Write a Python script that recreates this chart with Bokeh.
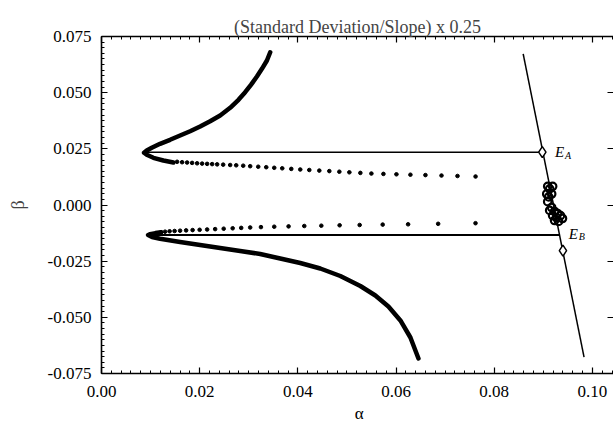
from bokeh.plotting import figure
from bokeh.models import LinearAxis, FixedTicker, NumeralTickFormatter, Range1d, CustomJSTickFormatter, Label
from bokeh.core.properties import value
from bokeh.embed import file_html
from bokeh.resources import INLINE

# ---------------- data ----------------
# upper curve, thick (dense) part: from top end through the nose
upper_thick_a = [0.03437, 0.03370, 0.03268, 0.03166, 0.03044, 0.02927, 0.02791, 0.02621, 0.02417,
                 0.02213, 0.02009, 0.01805, 0.01601, 0.01397, 0.01193, 0.01024, 0.00922, 0.00867,
                 0.00922, 0.01057, 0.01261, 0.01465]
upper_thick_b = [0.06800, 0.06431, 0.06061, 0.05719, 0.05349, 0.05020, 0.04682, 0.04326, 0.03983,
                 0.03729, 0.03494, 0.03284, 0.03093, 0.02902, 0.02724, 0.02546, 0.02425, 0.02323,
                 0.02234, 0.02101, 0.01980, 0.01891]
# upper curve, sparse dotted part
upper_dot_a = [0.01540, 0.01642, 0.01744, 0.01846, 0.01948, 0.02050, 0.02152, 0.02254, 0.02356,
               0.02479, 0.02621, 0.02744, 0.02887, 0.03029, 0.03193, 0.03356, 0.03519, 0.03682,
               0.03866, 0.04049, 0.04233, 0.04437, 0.04641, 0.04845, 0.05049, 0.05273, 0.05498,
               0.05743, 0.06008, 0.06293, 0.06599, 0.06926, 0.07252, 0.07620]
upper_dot_b = [0.01923, 0.01905, 0.01891, 0.01874, 0.01856, 0.01842, 0.01831, 0.01820, 0.01809,
               0.01796, 0.01780, 0.01767, 0.01749, 0.01727, 0.01704, 0.01682, 0.01656, 0.01633,
               0.01607, 0.01580, 0.01558, 0.01531, 0.01509, 0.01482, 0.01455, 0.01429, 0.01400,
               0.01384, 0.01366, 0.01348, 0.01331, 0.01311, 0.01291, 0.01268]
# lower curve, thick part: from nose down to the bottom end
lower_thick_a = [0.01214, 0.01100, 0.00990, 0.00949, 0.01030, 0.01193, 0.01601, 0.02009, 0.02417,
                 0.02825, 0.03233, 0.03641, 0.04049, 0.04457, 0.04865, 0.05273, 0.05579, 0.05845,
                 0.06089, 0.06293, 0.06457]
lower_thick_b = [-0.01210, -0.01250, -0.01300, -0.01335, -0.01424, -0.01504, -0.01647, -0.01780,
                 -0.01914, -0.02050, -0.02180, -0.02380, -0.02581, -0.02826, -0.03160, -0.03605,
                 -0.04028, -0.04517, -0.05140, -0.05897, -0.06831]
# lower curve, sparse dotted part
lower_dot_a = [0.01214, 0.01295, 0.01387, 0.01489, 0.01601, 0.01724, 0.01856, 0.01999, 0.02152,
               0.02315, 0.02489, 0.02672, 0.02846, 0.03029, 0.03248, 0.03519, 0.03811, 0.04131,
               0.04478, 0.04851, 0.05259, 0.05728, 0.06246, 0.06858, 0.07619]
lower_dot_b = [-0.01210, -0.01188, -0.01170, -0.01157, -0.01144, -0.01130, -0.01117, -0.01104,
               -0.01090, -0.01073, -0.01055, -0.01037, -0.01019, -0.01001, -0.00984, -0.00966,
               -0.00952, -0.00935, -0.00921, -0.00903, -0.00890, -0.00872, -0.00859, -0.00837,
               -0.00810]
# horizontal lines
hline_a_x = [0.0087, 0.0898]
hline_a_y = [0.0235, 0.0235]
hline_b_x = [0.0097, 0.0933]
hline_b_y = [-0.0133, -0.0133]
# steep line
steep_x = [0.0859, 0.0983]
steep_y = [0.0673, -0.0677]
# diamonds E_A, E_B
diam_x = [0.0898, 0.0940]
diam_y = [0.0235, -0.0203]
# open circles cluster
circ_x = [0.0909, 0.0919, 0.0913, 0.0907, 0.0917, 0.0911, 0.0909, 0.0917, 0.0913, 0.0923,
          0.0929, 0.0919, 0.0927, 0.0935, 0.0939, 0.0923, 0.0931]
circ_y = [0.0083, 0.0083, 0.0072, 0.0049, 0.0049, 0.0036, 0.0015, -0.0011, -0.0024, -0.0029,
          -0.0038, -0.0047, -0.0056, -0.0047, -0.0060, -0.0069, -0.0073]
# labels
lab_main = ["E", "E"]
lab_sub = ["A", "B"]
lab_x = [0.0924, 0.0952]
lab_y = [0.0235, -0.0127]

x_ticks = [0.0, 0.02, 0.04, 0.06, 0.08, 0.10]
y_ticks = [-0.075, -0.05, -0.025, 0.0, 0.025, 0.05, 0.075]
x_minor = [i * 0.002 for i in range(0, 53)]
y_minor = [-0.075 + i * 0.0025 for i in range(0, 61)]

FONT = "Liberation Serif"

p = figure(width=613, height=424, output_backend="svg", toolbar_location=None,
           x_range=Range1d(0.0, 0.1043), y_range=Range1d(-0.075, 0.075),
           min_border_left=101, min_border_right=0, min_border_top=36, min_border_bottom=51,
           x_axis_location=None, y_axis_location=None)
p.outline_line_color = None
p.grid.visible = False
p.background_fill_color = "white"
p.border_fill_color = "white"

p.title.text = "(Standard Deviation/Slope) x 0.25"
p.title.align = "center"
p.title.text_font = FONT
p.title.text_font_size = "18px"
p.title.text_font_style = "normal"
p.title.standoff = 0

blank = CustomJSTickFormatter(code="return '';")


def style_axis(ax, ticks, minor, fmt, show_labels=True, line=True):
    ax.ticker = FixedTicker(ticks=ticks, minor_ticks=minor)
    ax.formatter = NumeralTickFormatter(format=fmt) if show_labels else blank
    ax.major_tick_in = 6
    ax.major_tick_out = 0
    ax.minor_tick_in = 3
    ax.minor_tick_out = 0
    ax.major_tick_line_width = 1.2
    ax.minor_tick_line_width = 1
    ax.axis_line_width = 1.6
    if not line:
        ax.axis_line_color = None
    ax.major_label_text_font = FONT
    ax.major_label_text_font_size = "17px"
    ax.major_label_text_color = "black"
    ax.axis_label_text_font = FONT
    ax.axis_label_text_font_size = "18px"
    ax.axis_label_text_font_style = "normal"
    if not show_labels:
        ax.major_label_standoff = 0


bottom = LinearAxis()
style_axis(bottom, x_ticks, x_minor, "0.00")
bottom.major_label_standoff = 12
p.add_layout(bottom, "below")

left = LinearAxis(axis_label="β")
style_axis(left, y_ticks, y_minor, "0.000")
left.major_label_standoff = 10
left.axis_label_standoff = 17
p.add_layout(left, "left")

top = LinearAxis()
style_axis(top, x_ticks, x_minor, "0.00", show_labels=False)
p.add_layout(top, "above")

right = LinearAxis()
style_axis(right, y_ticks, y_minor, "0.000", show_labels=False, line=False)
right.minor_tick_in = 0
p.add_layout(right, "right")

# x-axis title, placed in the bottom panel (not clipped to the frame)
p.add_layout(Label(x=0.0525, y=-0.075, y_offset=-40, text="α", text_font=FONT,
                   text_font_size="17px", text_align="center", text_baseline="middle",
                   text_color="black"), "below")

# curves
p.line(upper_thick_a, upper_thick_b, line_width=4.5, line_color="black", line_cap="round", line_join="round")
p.line(lower_thick_a, lower_thick_b, line_width=4.5, line_color="black", line_cap="round", line_join="round")
p.scatter(upper_dot_a, upper_dot_b, size=3.6, color="black")
p.scatter(lower_dot_a, lower_dot_b, size=3.6, color="black")

p.line(hline_a_x, hline_a_y, line_width=1.4, line_color="black")
p.line(hline_b_x, hline_b_y, line_width=2, line_color="black")
p.line(steep_x, steep_y, line_width=1.5, line_color="black")

p.scatter(circ_x, circ_y, marker="circle", size=7.5, fill_color=None, line_color="black", line_width=2.2)
p.scatter(diam_x, diam_y, marker="diamond", size=11, fill_color="white", line_color="black", line_width=1.5)

p.text(lab_x, lab_y, text=lab_main, text_font=value(FONT), text_font_size="15px",
       text_font_style="italic", text_baseline="middle", text_align="left", text_color="black")
p.text(lab_x, lab_y, text=lab_sub, text_font=value(FONT), text_font_size="10px",
       text_font_style="italic", text_baseline="middle", text_align="left", text_color="black",
       x_offset=10, y_offset=3)

open("out.html", "w").write(file_html(p, INLINE))
